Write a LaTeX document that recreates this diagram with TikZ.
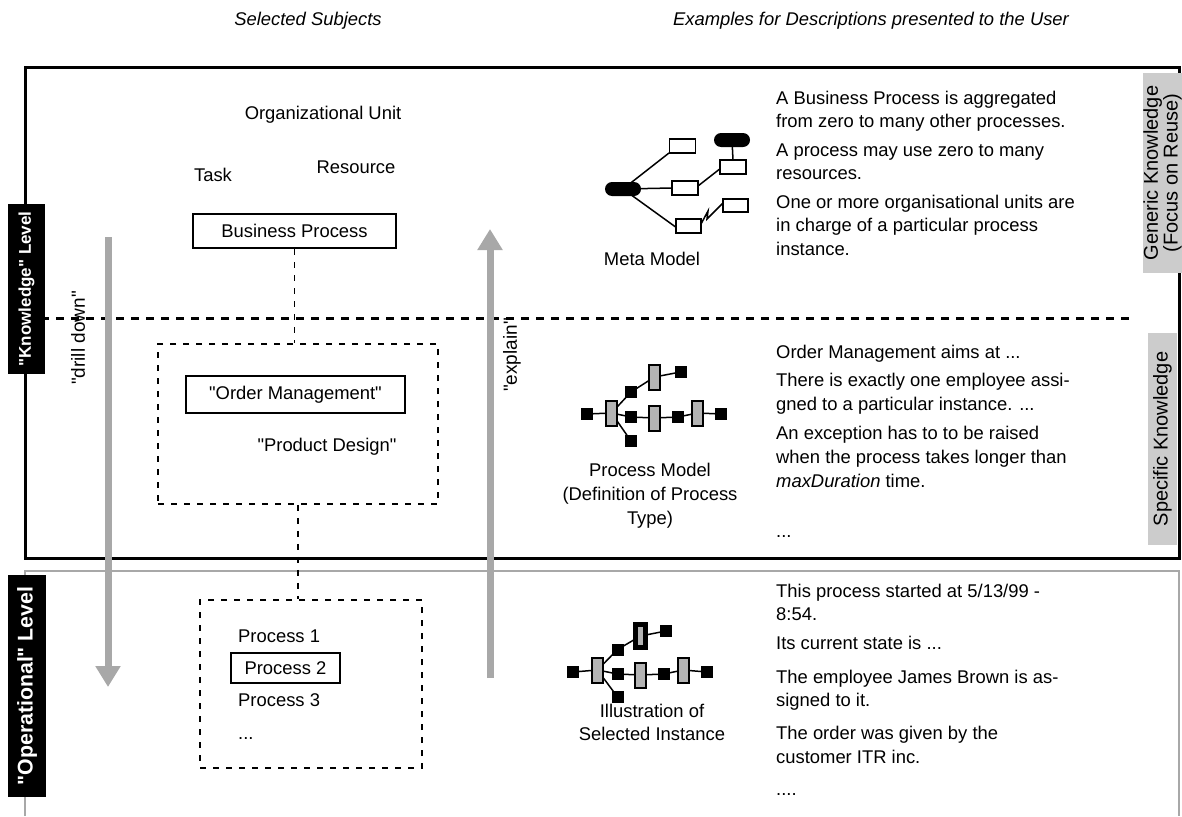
\documentclass[tikz,border=0pt]{standalone}
\usepackage{fontspec}
\setmainfont{Liberation Sans}[Ligatures=TeXOff]
\setsansfont{Liberation Sans}[Ligatures=TeXOff]
\usetikzlibrary{arrows.meta}
\definecolor{arrowgrey}{HTML}{A8A8A8}
\definecolor{labelgrey}{HTML}{CCCCCC}
\definecolor{bargrey}{HTML}{B4B4B4}
\begin{document}
\begin{tikzpicture}[x=1pt,y=-1pt,
  every node/.style={font=\fontsize{18.4}{23.5}\selectfont},
  txt/.style={inner sep=0pt, anchor=base west},
  ctxt/.style={inner sep=0pt, anchor=base},
  head/.style={inner sep=0pt, anchor=base, font=\fontsize{18.4}{23.5}\selectfont\itshape},
  itembox/.style={draw, line width=2pt, inner sep=0pt},
  dashbox/.style={draw, line width=1.8pt, dash pattern=on 6pt off 7pt, inner sep=0pt},
  dotconn/.style={line width=1.8pt, dash pattern=on 6pt off 7pt},
  sepline/.style={line width=3pt, dash pattern=on 8pt off 7pt},
  levellabel/.style={fill=black, text=white, rotate=90, inner sep=0pt},
  sidelabel/.style={fill=labelgrey, rotate=90, inner sep=0pt, align=center,
    font=\fontsize{20}{17.5}\selectfont},
  bigarrow/.style={draw=arrowgrey, line width=7pt,
    -{Triangle[width=24pt,length=21pt,fill=arrowgrey]}},
  sq/.style={fill=black, minimum width=12pt, minimum height=12pt, inner sep=0pt},
  bar/.style={draw, line width=2pt, fill=bargrey, minimum width=11pt, minimum height=25pt, inner sep=0pt},
  pill/.style={fill=black, rounded corners=7pt, minimum width=36pt, minimum height=14pt, inner sep=0pt},
  cls/.style={draw, line width=1.5pt, fill=white, minimum width=26pt, minimum height=14pt, inner sep=0pt},
  link/.style={line width=1.5pt},
]
\useasboundingbox (0,0) rectangle (1182,816);

% column headings
\node[head] (h1) at (308,25.5) {Selected Subjects};
\node[head] (h2) at (871,25.5) {Examples for Descriptions presented to the User};

% level frames
\draw[line width=2.5pt, arrowgrey] (25,816) -- (25,571) -- (1179,571) -- (1179,816);
\draw[line width=3pt] (25,67) rectangle (1179,558);
\draw[sepline] (26,318) -- (1132,318);

% side labels
\node[sidelabel, minimum width=200pt, minimum height=35pt] (gen) at (1162.5,173) {Generic Knowledge\\(Focus on Reuse)};
\node[sidelabel, minimum width=212pt, minimum height=29pt] (spec) at (1162.5,439) {Specific Knowledge};
\node[levellabel, minimum width=170pt, minimum height=37pt,
  font=\fontsize{17}{20}\selectfont\bfseries] (klev) at (26.5,289) {"Knowledge" Level};
\node[levellabel, minimum width=222pt, minimum height=38pt,
  font=\fontsize{21.3}{22}\selectfont\bfseries] (olev) at (27,686) {"Operational" Level};

% drill down / explain arrows
\coordinate (dd1) at (108,237);
\coordinate (dd2) at (108,687);
\coordinate (ex1) at (490,678);
\coordinate (ex2) at (490,229);
\draw[bigarrow] (dd1) -- (dd2);
\draw[bigarrow] (ex1) -- (ex2);
\node[rotate=90, inner sep=0pt, font=\fontsize{19}{23}\selectfont] (ddl) at (78,338) {"drill down"};
\node[rotate=90, inner sep=0pt, font=\fontsize{19}{23}\selectfont] (exl) at (512,355) {"explain"};

% selected subjects
\node[ctxt] (ou) at (323,119.5) {Organizational Unit};
\node[ctxt] (task) at (213,181.5) {Task};
\node[ctxt] (res) at (356,173.5) {Resource};
\node[itembox, minimum width=203pt, minimum height=34pt] (bp) at (294.5,231) {Business Process};

\node[dashbox, minimum width=280pt, minimum height=160pt] (box1) at (298,424) {};
\node[itembox, minimum width=219pt, minimum height=37pt] (om) at (295.5,394.5) {"Order Management"};
\node[ctxt] (pd) at (327,451.5) {"Product Design"};

\node[dashbox, minimum width=222pt, minimum height=168pt] (box2) at (311,684) {};
\node[txt] (p1) at (238,642.5) {Process 1};
\node[itembox, minimum width=109pt, minimum height=30pt] (p2) at (285.5,668) {Process 2};
\node[txt] (p3) at (238,706.5) {Process 3};
\node[txt] (p4) at (238,739.5) {...};

\draw[dotconn] (bp.south) -- (bp.south |- box1.north);
\draw[dotconn] (box1.south) -- (box1.south |- box2.north);

% meta model icon
\draw[link] (623,189) -- (669,153);
\draw[link] (623,189) -- (672,188);
\draw[link] (623,189) -- (677,228);
\draw[link] (698,186) -- (721,168);
\draw[link] (732,140) -- (733,160);
\draw[link] (701,224) -- (708,211) -- (707,219) -- (723,203);
\node[pill] (mp1) at (623,189) {};
\node[pill] (mp2) at (732,140) {};
\node[cls] (ma) at (682.5,146) {};
\node[cls] (mb) at (733,167) {};
\node[cls] (mc) at (685,188) {};
\node[cls, minimum width=25pt] (md) at (688.5,226) {};
\node[cls, minimum width=25pt, minimum height=13pt] (me) at (735.5,205.5) {};
\node[ctxt] (mml) at (652,265.5) {Meta Model};

% process model icon
\coordinate (q1) at (587,414);
\coordinate (q2) at (631,392);
\coordinate (q3) at (680.5,372);
\coordinate (q4) at (631,417);
\coordinate (q5) at (678,417);
\coordinate (q6) at (721,414);
\coordinate (q7) at (631,441);
\coordinate (b1) at (611.5,413);
\coordinate (b2) at (654.5,377);
\coordinate (b3) at (654.5,418);
\coordinate (b4) at (697.5,413);
\draw[link] (q1) -- (b1);
\draw[link] (b1) -- (q2) -- (b2) -- (q3);
\draw[link] (b1) -- (q4) -- (b3) -- (q5) -- (b4) -- (q6);
\draw[link] (b1) -- (q7);
\foreach \c in {q1,q2,q3,q4,q5,q6,q7} \node[sq] (pm-\c) at (\c) {};
\foreach \c in {b1,b2,b3,b4} \node[bar] (pm-\c) at (\c) {};
\node[ctxt] (pml1) at (650,476.5) {Process Model};
\node[ctxt] (pml2) at (650,500.5) {(Definition of Process};
\node[ctxt] (pml3) at (650,524.5) {Type)};

% illustration of the selected instance
\coordinate (r1) at (573,672);
\coordinate (r2) at (617.5,649.5);
\coordinate (r3) at (666,631);
\coordinate (r4) at (617.5,674);
\coordinate (r5) at (664,674);
\coordinate (r6) at (707,672);
\coordinate (r7) at (617.5,697);
\coordinate (c1) at (597.5,670);
\coordinate (c2) at (640.5,636);
\coordinate (c3) at (640,675);
\coordinate (c4) at (683,670);
\draw[link] (r1) -- (c1);
\draw[link] (c1) -- (r2) -- (c2) -- (r3);
\draw[link] (c1) -- (r4) -- (c3) -- (r5) -- (c4) -- (r6);
\draw[link] (c1) -- (r7);
\foreach \c in {r1,r2,r3,r4,r5,r6,r7} \node[sq] (il-\c) at (\c) {};
\foreach \c in {c1,c3,c4} \node[bar] (il-\c) at (\c) {};
\node[fill=black, minimum width=15pt, minimum height=28pt, inner sep=0pt] (il-c2) at (c2) {};
\node[fill=bargrey, minimum width=5pt, minimum height=18pt, inner sep=0pt] (il-c2in) at (c2) {};
\node[ctxt] (ill1) at (652,717.5) {Illustration of};
\node[ctxt] (ill2) at (652,740.5) {Selected Instance};

% descriptions: generic knowledge
\node[txt] (g1) at (776,104.5) {A Business Process is aggregated};
\node[txt] (g2) at (776,127.5) {from zero to many other processes.};
\node[txt] (g3) at (776,156.5) {A process may use zero to many};
\node[txt] (g4) at (776,179.5) {resources.};
\node[txt] (g5) at (776,208.5) {One or more organisational units are};
\node[txt] (g6) at (776,231.5) {in charge of a particular process};
\node[txt] (g7) at (776,255.5) {instance.};

% descriptions: specific knowledge
\node[txt] (s1) at (776,358.5) {Order Management aims at ...};
\node[txt] (s2) at (776,386.5) {There is exactly one employee assi-};
\node[txt] (s3) at (776,410.5) {gned to a particular instance. ...};
\node[txt] (s4) at (776,439.5) {An exception has to to be raised};
\node[txt] (s5) at (776,463.5) {when the process takes longer than};
\node[txt] (s6) at (776,487.5) {\textit{maxDuration} time.};
\node[txt] (s7) at (776,537.5) {...};

% descriptions: operational level
\node[txt] (o1) at (776,597.5) {This process started at 5/13/99 -};
\node[txt] (o2) at (776,620.5) {8:54.};
\node[txt] (o3) at (776,649.5) {Its current state is ...};
\node[txt] (o4) at (776,683.5) {The employee James Brown is as-};
\node[txt] (o5) at (776,706.5) {signed to it.};
\node[txt] (o6) at (776,739.5) {The order was given by the};
\node[txt] (o7) at (776,763.5) {customer ITR inc.};
\node[txt] (o8) at (776,795.5) {....};
\end{tikzpicture}
\end{document}
